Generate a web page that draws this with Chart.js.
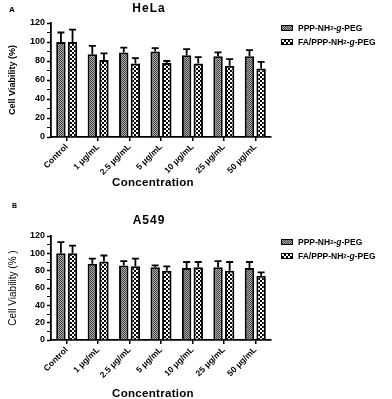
<!DOCTYPE html>
<html lang="en">
<head>
    <meta charset="UTF-8">
    <title>Cell Viability</title>
    <script src="https://cdn.jsdelivr.net/npm/chart.js"></script>
    <style>
        body {
            margin: 0;
            font-family: "Liberation Sans", Arial, sans-serif;
            background: #fff;
        }
        .panel {
            position: absolute;
            left: 0;
            width: 392px;
        }
        .panel canvas {
            position: absolute;
            left: 0;
            top: 0;
        }
        .txt {
            position: absolute;
            color: #000;
            white-space: nowrap;
            font-weight: bold;
        }
        .letter { font-size: 8px; }
        .title { font-size: 12px; letter-spacing: 1px; transform: translateX(-50%); }
        .xtitle { font-size: 11.5px; transform: translateX(-50%); letter-spacing: 0.3px; }
        .legend-row {
            position: absolute;
            left: 281px;
            display: flex;
            align-items: center;
            font-size: 8.5px;
            font-weight: bold;
            height: 10px;
        }
        .legend-row sub { font-size: 6px; vertical-align: -2px; }
        .sw {
            width: 10px;
            height: 4px;
            border: 1.5px solid #000;
            margin-right: 5px;
        }
        .sw-ppp { background: repeating-conic-gradient(#444 0 25%, #aaa 0 50%) 0 0/2px 2px; }
        .sw-fa { background: repeating-conic-gradient(#000 0 25%, #fff 0 50%) 0 0/4px 4px; }
    </style>
</head>
<body>

    <div class="panel" style="top:0;height:200px;">
        <canvas id="helaChart" width="392" height="200"></canvas>
        <div class="txt letter" style="left:9px;top:5px;">A</div>
        <div class="txt title" style="left:149px;top:1px;">HeLa</div>
        <div class="txt xtitle" style="left:153px;top:176px;">Concentration</div>
        <div class="legend-row" style="top:23px;"><div class="sw sw-ppp"></div>PPP-NH<sub>2</sub>-<i>g</i>-PEG</div>
        <div class="legend-row" style="top:37px;"><div class="sw sw-fa"></div>FA/PPP-NH<sub>2</sub>-<i>g</i>-PEG</div>
    </div>

    <div class="panel" style="top:200px;height:199px;">
        <canvas id="a549Chart" width="392" height="199"></canvas>
        <div class="txt letter" style="left:12px;top:2px;font-size:7px;">B</div>
        <div class="txt title" style="left:149px;top:13px;">A549</div>
        <div class="txt xtitle" style="left:153px;top:187px;">Concentration</div>
        <div class="legend-row" style="top:37px;"><div class="sw sw-ppp"></div>PPP-NH<sub>2</sub>-<i>g</i>-PEG</div>
        <div class="legend-row" style="top:51px;"><div class="sw sw-fa"></div>FA/PPP-NH<sub>2</sub>-<i>g</i>-PEG</div>
    </div>

    <script>
        const categories = ['Control', '1 μg/mL', '2.5 μg/mL', '5 μg/mL', '10 μg/mL', '25 μg/mL', '50 μg/mL'];
        const seriesNames = ['PPP-NH₂-g-PEG', 'FA/PPP-NH₂-g-PEG'];

        // HeLa (panel A)
        const helaPPP = [100, 87, 89, 90, 86, 85, 85];
        const helaPPPErr = [10, 9, 5, 3.5, 6.5, 4, 6.5];
        const helaFA = [100, 81, 77.5, 78, 77.5, 75, 72];
        const helaFAErr = [13, 7, 5.5, 2, 6.5, 7, 7];

        // A549 (panel B)
        const a549PPP = [100, 88, 86, 84, 83, 84, 83];
        const a549PPPErr = [13, 6, 5, 2, 7, 7, 7];
        const a549FA = [100, 90.5, 85, 80, 84, 80, 74];
        const a549FAErr = [9, 7, 9, 5, 6, 10, 4];

        const yTicks = [0, 20, 40, 60, 80, 100, 120];

        const FONT = '"Liberation Sans", Arial, sans-serif';

        function makePattern(kind) {
            const c = document.createElement('canvas');
            const g = c.getContext('2d');
            if (kind === 'ppp') {
                c.width = c.height = 2;
                g.fillStyle = '#aaa';
                g.fillRect(0, 0, 2, 2);
                g.fillStyle = '#444';
                g.fillRect(0, 0, 1, 1);
                g.fillRect(1, 1, 1, 1);
            } else {
                c.width = c.height = 4;
                g.fillStyle = '#fff';
                g.fillRect(0, 0, 4, 4);
                g.fillStyle = '#000';
                g.fillRect(0, 0, 2, 2);
                g.fillRect(2, 2, 2, 2);
            }
            return g.createPattern(c, 'repeat');
        }

        // upper error bars, positioned through the y scale
        const errorBars = {
            id: 'errorBars',
            afterDatasetsDraw(chart) {
                const ctx = chart.ctx;
                const y = chart.scales.y;
                chart.data.datasets.forEach((ds, i) => {
                    const meta = chart.getDatasetMeta(i);
                    meta.data.forEach((bar, j) => {
                        const top = y.getPixelForValue(ds.data[j] + ds.errors[j]);
                        ctx.save();
                        ctx.strokeStyle = '#000';
                        ctx.lineWidth = 1.8;
                        ctx.beginPath();
                        ctx.moveTo(bar.x, bar.y);
                        ctx.lineTo(bar.x, top);
                        ctx.moveTo(bar.x - 3.5, top);
                        ctx.lineTo(bar.x + 3.5, top);
                        ctx.stroke();
                        ctx.restore();
                    });
                });
            }
        };

        const createChart = (id, ppp, pppErr, fa, faErr, opt) => {
            const ctx = document.getElementById(id).getContext('2d');
            return new Chart(ctx, {
                type: 'bar',
                data: {
                    labels: categories,
                    datasets: [{
                        label: seriesNames[0],
                        data: ppp,
                        errors: pppErr,
                        backgroundColor: makePattern('ppp'),
                        borderColor: '#000',
                        borderWidth: 2
                    }, {
                        label: seriesNames[1],
                        data: fa,
                        errors: faErr,
                        backgroundColor: makePattern('fa'),
                        borderColor: '#000',
                        borderWidth: 2
                    }]
                },
                options: {
                    responsive: false,
                    animation: false,
                    devicePixelRatio: 1,
                    categoryPercentage: 0.74,
                    barPercentage: 0.81,
                    layout: {
                        padding: { top: opt.top, right: 121, left: 0, bottom: 0 }
                    },
                    plugins: {
                        legend: { display: false },
                        tooltip: { enabled: false }
                    },
                    scales: {
                        x: {
                            afterFit: s => { s.height = opt.xHeight; },
                            grid: {
                                display: true,
                                drawOnChartArea: false,
                                offset: false,
                                tickLength: 4,
                                color: '#000',
                                lineWidth: 1.5
                            },
                            border: { display: true, color: '#000', width: 1.8 },
                            ticks: {
                                minRotation: 45,
                                maxRotation: 45,
                                autoSkip: false,
                                padding: 1,
                                color: '#000',
                                font: { family: FONT, size: 8.5, weight: 'bold' }
                            }
                        },
                        y: {
                            min: 0,
                            max: 120,
                            afterFit: s => { s.width = 51; },
                            grid: {
                                display: true,
                                drawOnChartArea: false,
                                tickLength: 4,
                                color: '#000',
                                tickWidth: c => (c.tick && yTicks.includes(c.tick.value)) ? 1.5 : 1
                            },
                            border: { display: true, color: '#000', width: 1.8 },
                            ticks: {
                                stepSize: 10,
                                autoSkip: false,
                                padding: 2,
                                color: '#000',
                                font: { family: FONT, size: 9, weight: 'bold' },
                                callback: v => yTicks.includes(v) ? v : ''
                            },
                            title: {
                                display: true,
                                text: opt.yTitle,
                                color: '#000',
                                font: { family: FONT, size: opt.yTitleSize, weight: opt.yTitleWeight },
                                padding: { top: 7, bottom: 0 }
                            }
                        }
                    }
                },
                plugins: [errorBars]
            });
        };

        createChart('helaChart', helaPPP, helaPPPErr, helaFA, helaFAErr,
            { top: 23, xHeight: 63, yTitle: 'Cell Viability (%)', yTitleSize: 9, yTitleWeight: 'bold' });
        createChart('a549Chart', a549PPP, a549PPPErr, a549FA, a549FAErr,
            { top: 36, xHeight: 59, yTitle: 'Cell Viability (% )', yTitleSize: 10, yTitleWeight: 'normal' });
    </script>
</body>
</html>
